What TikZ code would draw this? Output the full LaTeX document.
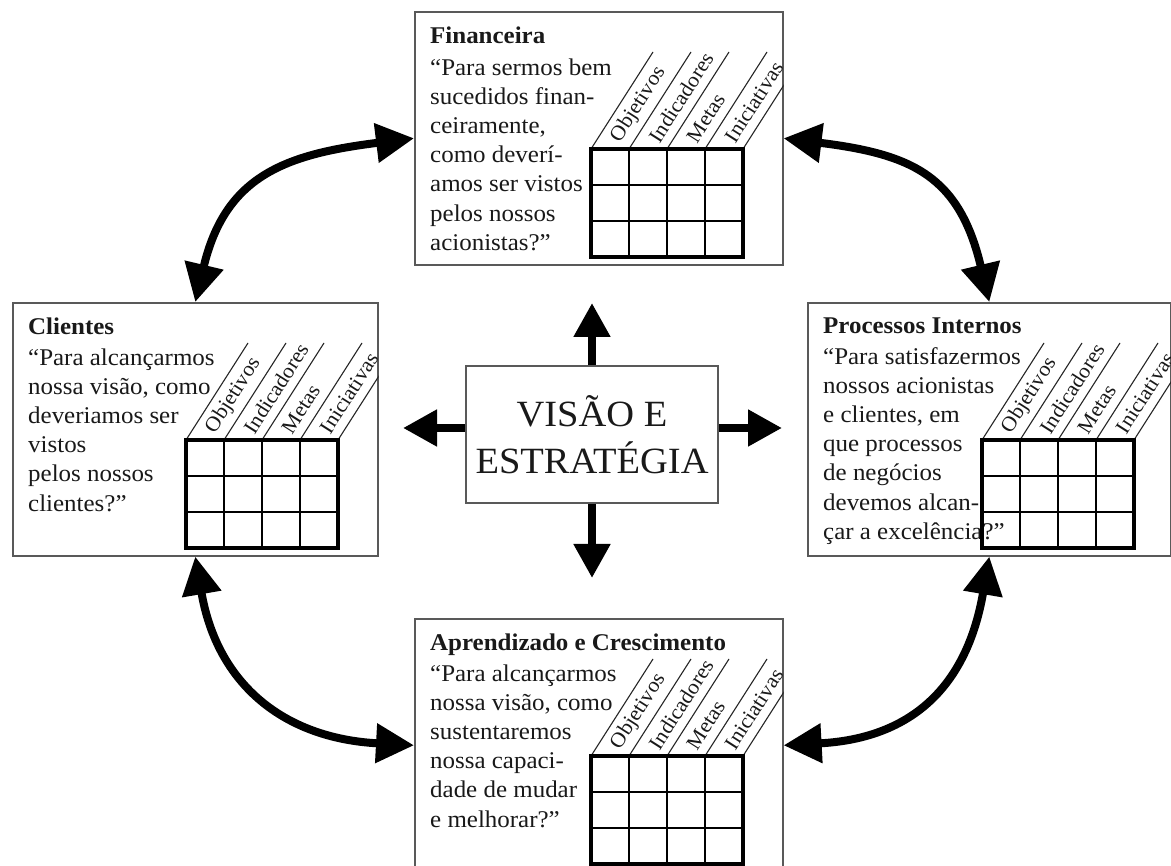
\documentclass[tikz,border=0pt]{standalone}
\usepackage{fontspec}
\setmainfont{Liberation Serif}[FakeStretch=1.04]
\usetikzlibrary{arrows.meta,calc}
\tikzset{
  cardbox/.style={draw=black!65, line width=1.6, fill=white, rectangle, inner sep=0, anchor=north west, minimum height=253},
  bodytext/.style={anchor=north west, inner sep=0, align=left, text=black!90, font=\fontsize{24}{29.2}\selectfont},
  diagline/.style={line width=1.1, draw=black!85},
  gridin/.style={line width=2.2, draw=black},
  gridout/.style={line width=3.8, draw=black},
  collabel/.style={anchor=west, inner sep=0, rotate=57.4, text=black!90, font=\fontsize{21}{21}\selectfont},
  bigdbl/.style={line width=8, {Triangle[length=38pt,width=38pt]}-{Triangle[length=38pt,width=38pt]}},
  bigone/.style={line width=8, -{Triangle[length=34pt,width=35pt]}},
  visbox/.style={draw=black!65, line width=1.6, fill=white, minimum width=252, minimum height=137, align=center, font=\fontsize{37}{47}\selectfont, text=black!90}
}
\newcommand{\mycard}[6]{%
  \node[cardbox, minimum width=#4] (#1) at (#2,#3) {};
  \node[bodytext] (#1-txt) at (#2+16,#3+16) {#6};
  \coordinate (#1-g) at (#2+#5,#3+138);
  \begin{scope}
    \clip (#1.north west) rectangle (#1.south east);
    \foreach \i in {0,...,4}{\draw[diagline] ($(#1-g)+(38*\i,0)$) -- ++(62,-97);}
  \end{scope}
  \foreach \i/\lab in {0/Objetivos,1/Indicadores,2/Metas,3/Iniciativas}{%
    \node[collabel] at ($(#1-g)+(38*\i+19,0)+(5.4,-8.4)$) {\lab};}
  \foreach \i in {1,2,3}{\draw[gridin] ($(#1-g)+(38*\i,0)$) -- ++(0,108);}
  \foreach \j in {1,2}{\draw[gridin] ($(#1-g)+(0,36*\j)$) -- ++(152,0);}
  \draw[gridout] (#1-g) rectangle ++(152,108);
}
\begin{document}
\begin{tikzpicture}[x=1pt,y=-1pt]
\useasboundingbox (0,0) rectangle (1171,866);
\fill[white] (0,0) rectangle (1171,866);

\mycard{fin}{414}{11}{368}{177}{\textbf{Financeira}\\[2pt]“Para sermos bem\\sucedidos finan-\\ceiramente,\\como deverí-\\amos ser vistos\\pelos nossos\\acionistas?”}
\mycard{cli}{12}{302}{365}{174}{\textbf{Clientes}\\[1pt]“Para alcançarmos\\nossa visão, como\\deveriamos ser\\vistos\\pelos nossos\\clientes?”}
\mycard{pro}{807}{302}{363}{175}{\textbf{Processos Internos}\\[1pt]“Para satisfazermos\\nossos acionistas\\e clientes, em\\que processos\\de negócios\\devemos alcan-\\çar a excelência?”}
\mycard{apr}{414}{618}{368}{177}{\textbf{Aprendizado e Crescimento}\\[1pt]“Para alcançarmos\\nossa visão, como\\sustentaremos\\nossa capaci-\\dade de mudar\\e melhorar?”}

\node[visbox] (vis) at (592,434.5) {VISÃO E\\ESTRATÉGIA};
\coordinate (upTip) at (592,303);
\coordinate (downTip) at (592,578);
\coordinate (leftTip) at (403,428);
\coordinate (rightTip) at (782,428);
\draw[bigone] (vis.north) -- (upTip);
\draw[bigone] (vis.south) -- (downTip);
\draw[bigone] (vis.west |- leftTip) -- (leftTip);
\draw[bigone] (vis.east |- rightTip) -- (rightTip);

\draw[bigdbl] (fin.west) .. controls +(-129,16) and +(30,-126) .. (cli.north);
\draw[bigdbl] (fin.east) .. controls +(129,16) and +(-30,-126) .. (pro.north);
\draw[bigdbl] (cli.south) .. controls +(22,128) and +(-130,-7) .. (apr.west);
\draw[bigdbl] (apr.east) .. controls +(130,-7) and +(-22,128) .. (pro.south);
\end{tikzpicture}
\end{document}
